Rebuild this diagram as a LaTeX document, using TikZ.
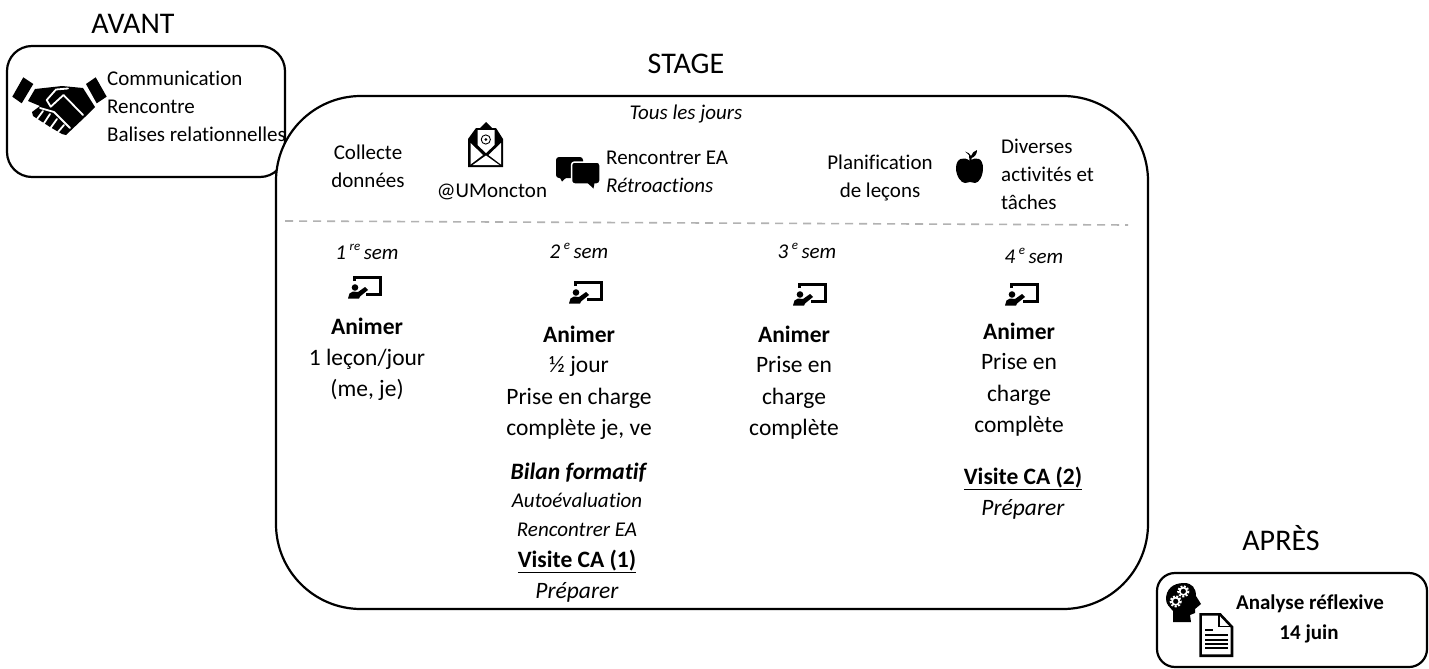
\documentclass[tikz,border=0pt]{standalone}
\usepackage{fontspec}
\setmainfont[Ligatures=NoCommon]{Carlito}
\newcommand{\sizeA}{\fontsize{23.5}{28}\selectfont}
\newcommand{\sizeB}{\fontsize{21}{25}\selectfont}
\newcommand{\sizeC}{\fontsize{30}{35}\selectfont}
\newcommand{\supsem}[1]{\,\raisebox{8.5pt}{\fontsize{13}{13}\selectfont #1}\,}
\tikzset{
  boxline/.style={line width=2.2pt,rounded corners=#1},
  whiteline/.style={white,line width=1.8pt},
  heading/.style={font=\sizeC,anchor=base,inner sep=0pt},
  bigtext/.style={font=\sizeA,anchor=base,inner sep=0pt},
  smalltext/.style={font=\sizeB,anchor=base,inner sep=0pt},
  lefttext/.style={font=\sizeB,anchor=base west,inner sep=0pt},
  presenter/.pic={
    \draw [line width=2.1pt,line join=miter,line cap=butt] (6.5,4)-- (6.5,0.5)-- (32.5,0.5)-- (32.5,17.5)-- (18,17.5);
    \fill (7,10.5) circle (3.3);
    \fill (0,21.5)-- (1.5,16.5)-- (5,14.5)-- (10,15)-- (17,10)-- (20,13)-- (12,19.5)-- (11,21.5)-- cycle;
  }
}
\begin{document}
\begin{tikzpicture}[line cap=round,line join=round,x=1pt,y=-1pt]
\useasboundingbox (0,0) rectangle (1429,669);

\draw [boxline=25pt] (7,46) rectangle (285,177);
\draw [boxline=85pt,fill=white] (276,96) rectangle (1148,609);
\draw [boxline=18pt] (1157,573) rectangle (1427,667);
\draw [line width=1.6pt,color=gray!60,dash pattern=on 8pt off 6pt,line cap=butt] (285,221)-- (1128,225);

\draw (133,34) node[heading] (avant) {AVANT};
\draw (686,74) node[heading] (stage) {STAGE};
\draw (1281,550) node[heading] (apres) {APRÈS};

\draw (107,85) node[lefttext] (communication) {Communication};
\draw (107,113) node[lefttext] (rencontre) {Rencontre};
\draw (107,141) node[lefttext] (balises) {Balises relationnelles};

\draw (686,119) node[smalltext] (tous) {\textit{Tous les jours}};
\draw (368,159) node[smalltext] (collecte) {Collecte};
\draw (368,187) node[smalltext] (donnees) {données};
\draw (492,197) node[smalltext] (moncton) {@UMoncton};
\draw (606,164) node[lefttext] (rencontrerea) {Rencontrer EA};
\draw (606,192) node[lefttext] (retroactions) {\textit{Rétroactions}};
\draw (880,169) node[smalltext] (planification) {Planification};
\draw (880,197) node[smalltext] (lecons) {de leçons};
\draw (1001,153) node[lefttext] (diverses) {Diverses};
\draw (1001,181) node[lefttext] (activites) {activités et};
\draw (1001,209) node[lefttext] (taches) {tâches};

\draw (367,259) node[smalltext] (semA) {\textit{1\supsem{re}sem}};
\draw (579,258) node[smalltext] (semB) {\textit{2\supsem{e}sem}};
\draw (807,258) node[smalltext] (semC) {\textit{3\supsem{e}sem}};
\draw (1034,263) node[smalltext] (semD) {\textit{4\supsem{e}sem}};

\draw (348,277) pic {presenter};
\draw (569,282) pic {presenter};
\draw (793,284) pic {presenter};
\draw (1005,284) pic {presenter};

\draw (367,334) node[bigtext] (animerA) {\textbf{Animer}};
\draw (367,365) node[bigtext] (leconA) {1 leçon/jour};
\draw (367,396) node[bigtext] (joursA) {(me, je)};

\draw (579,342) node[bigtext] (animerB) {\textbf{Animer}};
\draw (579,372) node[bigtext] (demiB) {½ jour};
\draw (579,404) node[bigtext] (priseB) {Prise en charge};
\draw (579,435) node[bigtext] (completeB) {complète je, ve};
\draw (579,479) node[bigtext] (bilanB) {\textbf{\textit{Bilan formatif}}};
\draw (577,507) node[smalltext] (autoB) {\textit{Autoévaluation}};
\draw (577,536) node[smalltext] (rencontrerB) {\textit{Rencontrer EA}};
\draw (577,567) node[bigtext] (visiteB) {\underline{\textbf{Visite CA (1)}}};
\draw (577,598) node[bigtext] (prepB) {\textit{Préparer}};

\draw (794,342) node[bigtext] (animerC) {\textbf{Animer}};
\draw (794,372) node[bigtext] (priseC) {Prise en};
\draw (794,404) node[bigtext] (chargeC) {charge};
\draw (794,435) node[bigtext] (completeC) {complète};

\draw (1019,339) node[bigtext] (animerD) {\textbf{Animer}};
\draw (1019,369) node[bigtext] (priseD) {Prise en};
\draw (1019,401) node[bigtext] (chargeD) {charge};
\draw (1019,432) node[bigtext] (completeD) {complète};
\draw (1023,484) node[bigtext] (visiteD) {\underline{\textbf{Visite CA (2)}}};
\draw (1023,515) node[bigtext] (prepD) {\textit{Préparer}};

\draw (1310,609) node[smalltext] (analyse) {\textbf{Analyse réflexive}};
\draw (1309,639) node[smalltext] (juin) {\textbf{14 juin}};

% poignee de main
\fill (23.3,77.3)-- (33.3,84)-- (21.7,103.3)-- (12.3,96.7)-- cycle;
\fill (95.7,77.3)-- (106.7,96.7)-- (96.7,103.3)-- (86,84)-- cycle;
\fill (35,89)-- (62,86)-- (83,88)-- (95,107)-- (85,117)-- (66,135)-- (62,134)-- (50,127)-- (33,116)-- (32,112)-- (40,106)-- (28,101)-- cycle;
\draw [whiteline] (50.7,106.7)-- (46.7,100)-- (56,89.5)-- (68,88.5);
\draw [whiteline] (50.7,106.7)-- (63.5,95)-- (83,115);
\draw [whiteline] (40,108)-- (54,112)-- (70,128);
\draw [whiteline] (43,111)-- (37,119);
\draw [whiteline] (50,114)-- (43.5,124);
\draw [whiteline] (57,119)-- (50.5,128);
\draw [whiteline] (64,125)-- (58,132);

% enveloppe
\fill (486,122)-- (492,128)-- (496,128)-- (503,139)-- (503,167)-- (468,167)-- (468,139)-- (476,128)-- (480,128)-- cycle;
\fill [white] (477.5,130)-- (494.5,130)-- (494.5,145)-- (486,153)-- (477.5,145)-- cycle;
\fill [white] (470.5,143)-- (483,155)-- (470.5,164.5)-- cycle;
\fill [white] (501,143)-- (488.5,155)-- (501,164.5)-- cycle;
\fill [white] (472.5,165.2)-- (486,155.5)-- (499.5,165.2)-- cycle;
\draw [line width=0.9pt] (485.8,139.5) circle (4.6);
\fill (485.8,139.5) circle (1.5);

% bulles
\fill [rounded corners=3pt] (556,157) rectangle (583,178);
\fill (559,176)-- (562,181.5)-- (568,176)-- cycle;
\fill [rounded corners=3pt,draw=white,line width=1.5pt] (571.5,162) rectangle (600,184);
\fill (587.5,183)-- (593.5,188.5)-- (594.5,183)-- cycle;

% pomme
\fill (970,161) .. controls (964,156) and (956,158) .. (956,168) .. controls (956,176) and (961,183) .. (965,183) .. controls (967,183) and (968,182) .. (970,182) .. controls (972,182) and (973,183) .. (975,183) .. controls (979,183) and (983,176) .. (983,168) .. controls (983,158) and (976,156) .. (970,161)-- cycle;
\fill (969.5,161)-- (969,155)-- (965,151.5) .. controls (968,152) and (970,154) .. (971,156) .. controls (972,153) and (974,151) .. (977,150) .. controls (977,154) and (975,157) .. (971.5,158)-- (971.5,161)-- cycle;

% tete et engrenages
\fill (1184,583) .. controls (1172,583) and (1166,590) .. (1166,599) .. controls (1166,605) and (1170,607) .. (1173,611)-- (1173,622)-- (1191,622)-- (1190,615)-- (1195,613)-- (1195,609)-- (1201,604)-- (1196,596) .. controls (1196,588) and (1192,583) .. (1184,583)-- cycle;
\draw [white,line width=2pt,dash pattern=on 2pt off 1.5pt,line cap=butt] (1183.3,591.3) circle (5.2);
\draw [white,line width=1.6pt] (1183.3,591.3) circle (3.6);
\draw [white,line width=2pt,dash pattern=on 2pt off 1.5pt,line cap=butt] (1175.7,601.3) circle (5.2);
\draw [white,line width=1.6pt] (1175.7,601.3) circle (3.6);

% document
\draw [fill=white,line width=2.6pt,line join=miter] (1200.6,614.3)-- (1220,614.3)-- (1232,627)-- (1232,655.7)-- (1200.6,655.7)-- cycle;
\draw [line width=1.6pt,line join=miter] (1219,614.3)-- (1219,626.5)-- (1232,626.5);
\fill (1205,628.7) rectangle (1213.3,631.3);
\fill (1205,634) rectangle (1227.7,636.4);
\fill (1205,638.6) rectangle (1227.7,640.8);
\fill (1205,642.8) rectangle (1227.7,645);
\fill (1205,647) rectangle (1227.7,649.2);

\end{tikzpicture}
\end{document}
